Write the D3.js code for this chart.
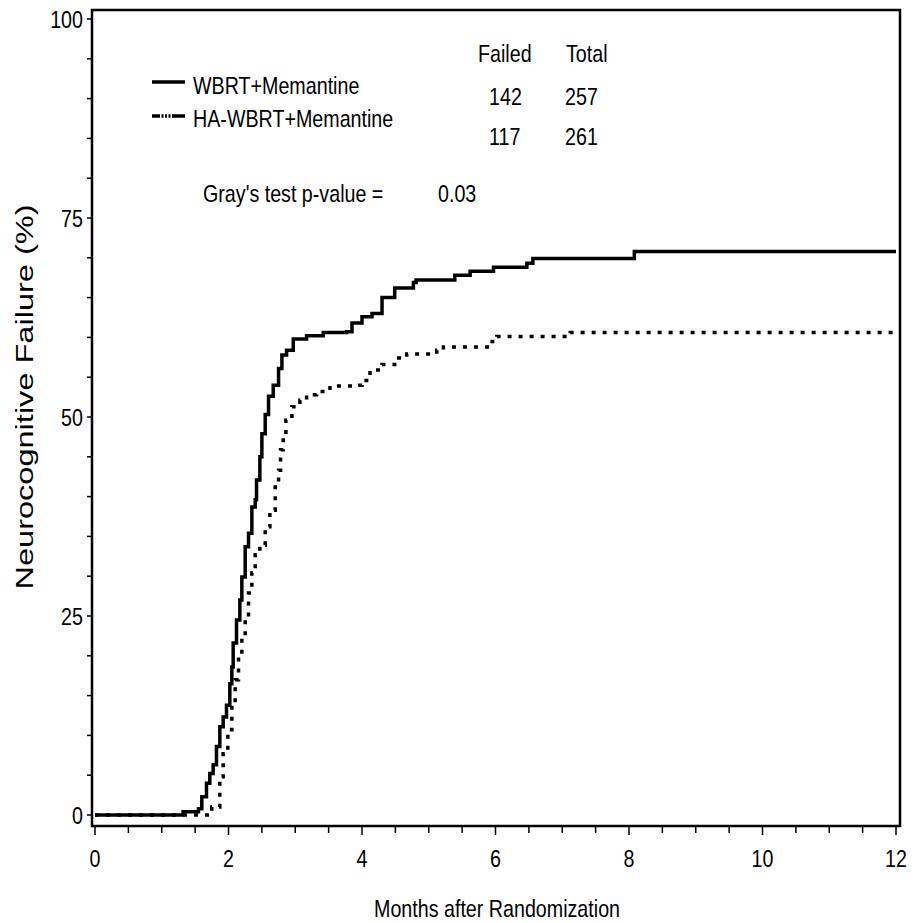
<!DOCTYPE html>
<html>
<head>
<meta charset="utf-8">
<script src="https://cdn.jsdelivr.net/npm/d3@7"></script>
<style>
  body { margin: 0; background: #fff; }
  text { fill: #000; font-family: 'Liberation Sans', Arial, sans-serif; }
</style>
</head>
<body>
<script>
// cumulative incidence (months, %)
var wbrtMonths = [0, 1.32, 1.55, 1.6, 1.67, 1.72, 1.77, 1.82, 1.87, 1.92, 1.97, 2.02, 2.05, 2.07, 2.12, 2.17, 2.2, 2.25, 2.3, 2.35, 2.4, 2.42, 2.47, 2.5, 2.55, 2.6, 2.67, 2.75, 2.8, 2.87, 2.97, 3.17, 3.42, 3.77, 3.85, 4.0, 4.15, 4.3, 4.49, 4.77, 4.81, 5.39, 5.62, 5.97, 6.47, 6.56, 8.08, 12];
var wbrtPct = [0, 0.4, 0.8, 2.3, 4.0, 5.2, 6.3, 8.6, 11.1, 12.3, 13.8, 16.5, 18.6, 21.6, 24.5, 27.0, 29.9, 33.7, 35.4, 38.7, 39.6, 42.1, 45.0, 47.9, 50.3, 52.6, 54.0, 56.1, 57.8, 58.4, 59.8, 60.2, 60.6, 60.7, 61.8, 62.6, 63.0, 65.0, 66.2, 66.9, 67.2, 67.8, 68.3, 68.8, 69.3, 69.9, 70.8, 70.8];

var haMonths = [0, 1.75, 1.87, 1.92, 1.99, 2.05, 2.1, 2.15, 2.2, 2.25, 2.3, 2.35, 2.4, 2.47, 2.55, 2.62, 2.7, 2.75, 2.78, 2.82, 2.86, 2.95, 3.07, 3.17, 3.32, 3.52, 3.87, 4.0, 4.12, 4.3, 4.55, 4.67, 5.12, 5.22, 5.92, 6.02, 7.12, 12];
var haPct = [0, 1.0, 4.8, 7.7, 10.7, 14.4, 17.0, 19.9, 22.4, 24.5, 27.9, 30.4, 32.7, 33.9, 36.2, 38.3, 41.2, 43.3, 45.9, 47.5, 49.6, 51.3, 52.1, 52.8, 53.2, 53.9, 54.0, 54.6, 55.9, 56.6, 57.4, 57.9, 58.4, 58.8, 59.5, 60.1, 60.6, 60.6];

var seriesNames = ["WBRT+Memantine", "HA-WBRT+Memantine"];
var failed = ["142", "117"];
var totals = ["257", "261"];
var pValue = "0.03";

var xTicks = [0, 2, 4, 6, 8, 10, 12];
var yTicks = [0, 25, 50, 75, 100];

var width = 918, height = 923;
var svg = d3.select("body").append("svg")
	.attr("width", width)
	.attr("height", height);

var x = d3.scaleLinear().domain([0, 12]).range([95, 896]);
var y = d3.scaleLinear().domain([0, 100]).range([815, 19]);

// no narrow font installed, so squeeze Liberation Sans horizontally
function narrow(px, py, anchor, txt) {
	var g = svg.append("g")
		.attr("transform", "translate(" + px + "," + py + ") scale(0.82,1)");
	g.append("text")
		.attr("text-anchor", anchor || "start")
		.style("font-size", "24px")
		.text(txt);
	return g;
}

// frame
svg.append("rect")
	.attr("x", 92).attr("y", 10)
	.attr("width", 808).attr("height", 816)
	.style("fill", "none").style("stroke", "#000").style("stroke-width", 2.5);

// y ticks
svg.selectAll("line.ymin")
	.data(d3.range(0, 101, 5))
	.enter().append("line")
	.attr("x1", 87).attr("x2", 92)
	.attr("y1", function(d) {return y(d);})
	.attr("y2", function(d) {return y(d);})
	.style("stroke", "#000").style("stroke-width", 1.5);
yTicks.forEach(function(d) {
	narrow(83, y(d) + 8.5, "end", d);
});

// x ticks
svg.selectAll("line.xmin")
	.data(d3.range(0, 12.01, 0.5))
	.enter().append("line")
	.attr("x1", function(d) {return x(d);})
	.attr("x2", function(d) {return x(d);})
	.attr("y1", 826)
	.attr("y2", function(d) {return xTicks.indexOf(d) > -1 ? 835 : 833;})
	.style("stroke", "#000").style("stroke-width", 1.5);
xTicks.forEach(function(d) {
	narrow(x(d), 867, "middle", d);
});

// axis titles
narrow(497, 917, "middle", "Months after Randomization");
svg.append("text")
	.attr("transform", "translate(33,397) rotate(-90)")
	.attr("text-anchor", "middle")
	.attr("textLength", 385)
	.attr("lengthAdjust", "spacingAndGlyphs")
	.style("font-size", "23px")
	.text("Neurocognitive Failure  (%)");

// curves
var line = d3.line()
	.x(function(d) {return x(d[0]);})
	.y(function(d) {return y(d[1]);})
	.curve(d3.curveStepAfter);

svg.append("path")
	.datum(d3.zip(haMonths, haPct))
	.attr("d", line)
	.style("fill", "none").style("stroke", "#000")
	.style("stroke-width", 3.5)
	.style("stroke-dasharray", "4,7");
svg.append("path")
	.datum(d3.zip(wbrtMonths, wbrtPct))
	.attr("d", line)
	.style("fill", "none").style("stroke", "#000")
	.style("stroke-width", 3.5);

// legend
svg.append("line")
	.attr("x1", 152).attr("x2", 185).attr("y1", 82).attr("y2", 82)
	.style("stroke", "#000").style("stroke-width", 3.5);
svg.append("line")
	.attr("x1", 152).attr("x2", 185).attr("y1", 116).attr("y2", 116)
	.style("stroke", "#000").style("stroke-width", 3.5)
	.style("stroke-dasharray", "8,1.5,2,1.5,2,1.5,2,1.5,20");
seriesNames.forEach(function(d, i) {
	narrow(193, 94 + i * 33, "start", d);
});

narrow(478, 62, "start", "Failed");
narrow(566, 62, "start", "Total");
failed.forEach(function(d, i) {
	narrow(489, 105 + i * 40, "start", d);
});
totals.forEach(function(d, i) {
	narrow(565, 105 + i * 40, "start", d);
});

narrow(203, 202, "start", "Gray's test p-value =");
narrow(438, 202, "start", pValue);
</script>
</body>
</html>
